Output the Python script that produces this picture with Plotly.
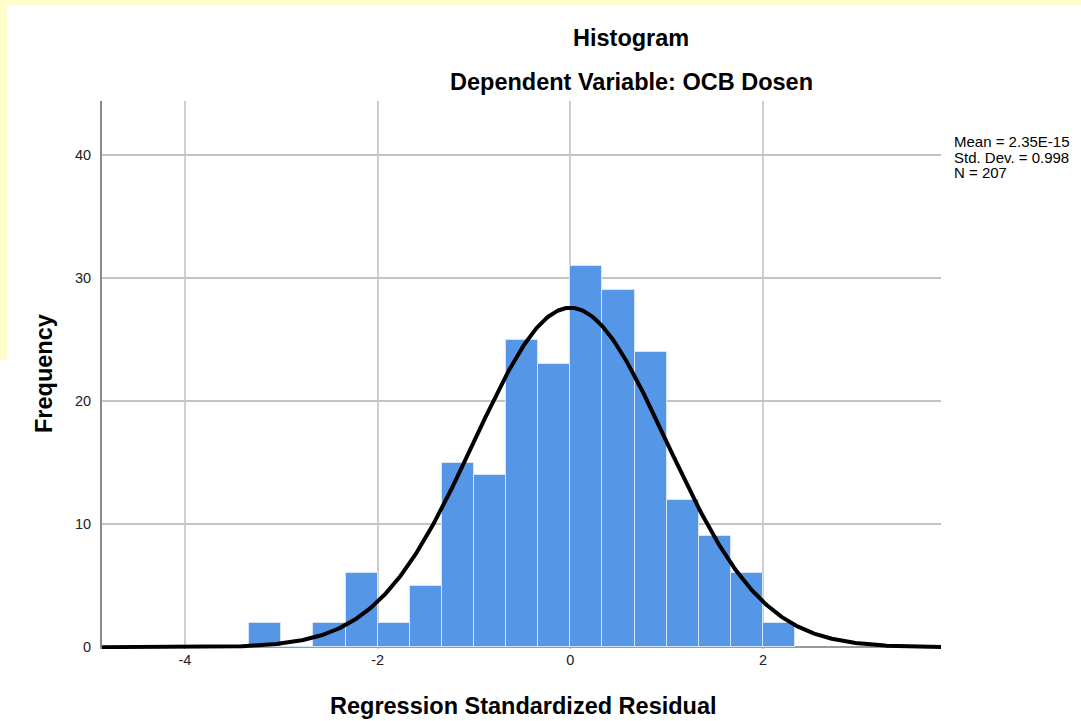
import numpy as np
import plotly.graph_objects as go

# ---------------- data ----------------
bin_width = 1 / 3
bin_lefts = [-10/3, -3, -8/3, -7/3, -2, -5/3, -4/3, -1, -2/3, -1/3, 0, 1/3, 2/3, 1, 4/3, 5/3, 2]
counts    = [2, 0, 2, 6, 2, 5, 15, 14, 25, 23, 31, 29, 24, 12, 9, 6, 2]
mean_val = 2.35e-15
sd_val = 0.998
n_val = 207
x_ticks = [-4, -2, 0, 2]
y_ticks = [0, 10, 20, 30, 40]
stats_lines = ["Mean = 2.35E-15", "Std. Dev. = 0.998", "N = 207"]

# ---------------- geometry ----------------
W, H = 1081, 721
L, R, T, B = 102, 140, 101, 72
PW, PH = W - L - R, H - T - B

def px(xp):
    return (xp - L) / PW

def py(yp):
    return (H - B - yp) / PH

FONT = "Liberation Sans, Arial, sans-serif"

centers = [b + bin_width / 2 for b in bin_lefts]

fig = go.Figure()
fig.add_trace(go.Bar(
    x=centers, y=counts, width=[bin_width] * len(counts),
    marker=dict(color="#5596E6", line=dict(color="#D6E5F8", width=1)),
    hoverinfo="x+y", showlegend=False,
))

xs = np.linspace(-4.87, 3.85, 600)
pdf = n_val * bin_width / (sd_val * np.sqrt(2 * np.pi)) * np.exp(-0.5 * ((xs - mean_val) / sd_val) ** 2)
fig.add_trace(go.Scatter(x=xs, y=pdf, mode="lines", line=dict(color="black", width=4),
                         hoverinfo="skip", showlegend=False))

annotations = [
    dict(text="<b>Histogram</b>", x=px(631), y=py(38), xref="paper", yref="paper",
         xanchor="center", yanchor="middle", showarrow=False,
         font=dict(family=FONT, size=23.5, color="black")),
    dict(text="<b>Dependent Variable: OCB Dosen</b>", x=px(631), y=py(82), xref="paper", yref="paper",
         xanchor="center", yanchor="middle", showarrow=False,
         font=dict(family=FONT, size=23.5, color="black")),
    dict(text="<b>Regression Standardized Residual</b>", x=px(523), y=py(706), xref="paper", yref="paper",
         xanchor="center", yanchor="middle", showarrow=False,
         font=dict(family=FONT, size=23.5, color="black")),
    dict(text="<b>Frequency</b>", x=px(44), y=py(374), xref="paper", yref="paper",
         xanchor="center", yanchor="middle", showarrow=False, textangle=-90,
         font=dict(family=FONT, size=23.5, color="black")),
]
for i, line in enumerate(stats_lines):
    annotations.append(dict(text=line, x=px(952), y=py(141 + 16 * i), xref="paper", yref="paper",
                            xanchor="left", yanchor="middle", align="left", showarrow=False,
                            font=dict(family=FONT, size=15, color="black")))

shapes = [
    dict(type="rect", xref="paper", yref="paper", x0=px(0), x1=px(W), y0=py(0), y1=py(5),
         fillcolor="#FFFDCC", line=dict(width=0), layer="below"),
    dict(type="rect", xref="paper", yref="paper", x0=px(0), x1=px(7), y0=py(0), y1=py(360),
         fillcolor="#FFFDCC", line=dict(width=0), layer="below"),
]

fig.update_layout(
    width=W, height=H,
    margin=dict(l=L, r=R, t=T, b=B, pad=0),
    paper_bgcolor="white", plot_bgcolor="white",
    bargap=0,
    annotations=annotations,
    shapes=shapes,
    xaxis=dict(range=[-4.861, 3.848], tickvals=x_ticks, ticktext=[str(v) for v in x_ticks],
               showgrid=True, gridcolor="#CFCFCF", gridwidth=1.5,
               zeroline=False, showline=False, ticks="",
               tickfont=dict(family=FONT, size=14.5, color="#222")),
    yaxis=dict(range=[-0.15, 44.4], tickvals=y_ticks, ticktext=[str(v) for v in y_ticks],
               showgrid=True, gridcolor="#C4C4C4", gridwidth=1.5,
               zeroline=True, zerolinecolor="#9A9A9A", zerolinewidth=1.5,
               showline=True, linecolor="#8A8A8A", linewidth=2, ticks="",
               ticklabelstandoff=6,
               tickfont=dict(family=FONT, size=14.5, color="#222")),
    font=dict(family=FONT),
)

fig.write_html("out.html", config={"displayModeBar": False},
               post_script="document.body.style.margin='0';document.body.style.padding='0';")
